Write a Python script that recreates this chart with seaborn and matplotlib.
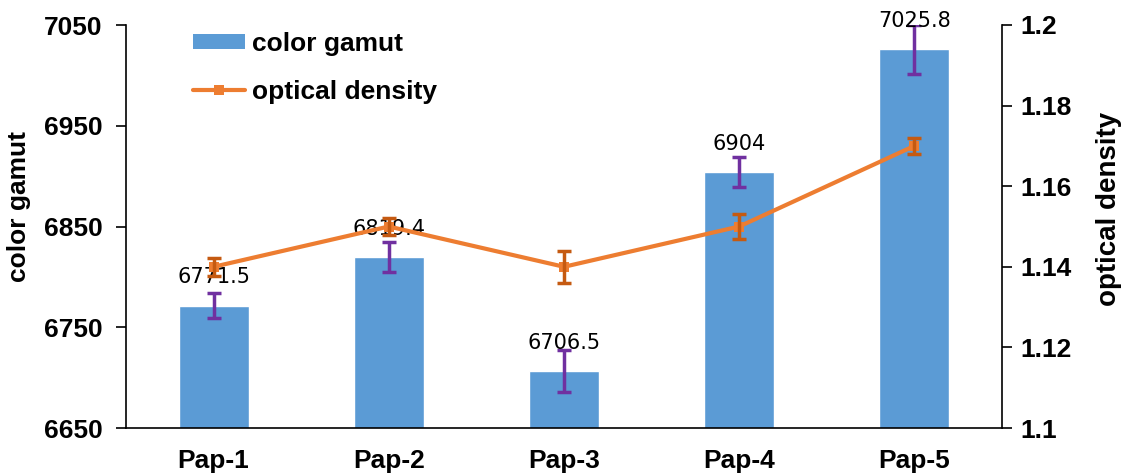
import numpy as np
import pandas as pd
import matplotlib
matplotlib.use("Agg")
import matplotlib.pyplot as plt
import seaborn as sns
from matplotlib.patches import Patch
from matplotlib.lines import Line2D

categories = ["Pap-1", "Pap-2", "Pap-3", "Pap-4", "Pap-5"]
color_gamut = [6771.5, 6819.4, 6706.5, 6904, 7025.8]
gamut_err = [12, 15, 21, 14.5, 24]
optical_density = [1.14, 1.15, 1.14, 1.15, 1.17]
density_err = [0.0022, 0.0022, 0.004, 0.003, 0.002]
gamut_ticks = [6650, 6750, 6850, 6950, 7050]
density_ticks = [1.1, 1.12, 1.14, 1.16, 1.18, 1.2]
density_ticklabels = ["1.1", "1.12", "1.14", "1.16", "1.18", "1.2"]

sns.set_style("white")
plt.rcParams['font.family'] = ['Liberation Sans', 'DejaVu Sans']
plt.rcParams['text.color'] = 'black'
plt.rcParams['axes.labelcolor'] = 'black'
plt.rcParams['xtick.color'] = 'black'
plt.rcParams['ytick.color'] = 'black'

bar_color = "#5B9BD5"
line_color = "#ED7D31"
bar_err_color = "#7030A0"
line_err_color = "#C55A11"

df = pd.DataFrame({"cat": categories, "gamut": color_gamut})

fig = plt.figure(figsize=(11.23, 4.74), dpi=100)
ax = fig.add_axes([126/1123, 1-428/474, (1002-126)/1123, (428-25)/474])

sns.barplot(data=df, x="cat", y="gamut", color=bar_color, width=0.4,
            saturation=1, ax=ax, zorder=2)
pos = np.arange(len(categories))
ax.errorbar(pos, color_gamut, yerr=gamut_err, fmt="none", ecolor=bar_err_color,
            elinewidth=2.5, capsize=5, capthick=2.5, zorder=3)
for x, v in zip(pos, color_gamut):
    ax.text(x, v + 18, f"{v:g}", ha="center", va="bottom", fontsize=15,
            family="DejaVu Sans", color="black", zorder=4)

ax.set_ylim(6650, 7050)
ax.set_xlim(-0.5, 4.5)
ax.set_yticks(gamut_ticks)
ax.set_yticklabels([str(t) for t in gamut_ticks], fontsize=19, fontweight="bold")
ax.set_xticks(pos)
ax.set_xticklabels(categories, fontsize=19, fontweight="bold")
ax.set_xticks(np.arange(-0.5, 5, 1.0), minor=True)
ax.tick_params(axis="x", which="major", length=0, pad=15)
ax.tick_params(axis="x", which="minor", length=7, width=1.2, direction="out", color="black")
ax.tick_params(axis="y", which="major", length=7, width=1.2, direction="out", color="black", left=True, pad=10)
ax.set_xlabel("")
ax.set_ylabel("")
for s in ["left", "bottom"]:
    ax.spines[s].set_color("black")
    ax.spines[s].set_linewidth(1.2)
ax.spines["top"].set_visible(False)
ax.spines["right"].set_visible(False)

ax2 = ax.twinx()
dfl = pd.DataFrame({"pos": pos, "od": optical_density})
sns.lineplot(data=dfl, x="pos", y="od", color=line_color, linewidth=3,
             marker="s", markersize=7, markeredgewidth=0, ax=ax2, zorder=3)
ax2.errorbar(pos, optical_density, yerr=density_err, fmt="none", ecolor=line_err_color,
             elinewidth=2.5, capsize=5, capthick=2.5, zorder=4)
ax2.set_ylim(1.1, 1.2)
ax2.set_yticks(density_ticks)
ax2.set_yticklabels(density_ticklabels, fontsize=19, fontweight="bold")
ax2.tick_params(axis="y", which="major", length=7, width=1.2, direction="out", color="black", right=True, pad=6)
ax2.set_ylabel("")
ax2.set_xlabel("")
ax2.set_xlim(-0.5, 4.5)
ax2.spines["top"].set_visible(False)
ax2.spines["left"].set_visible(False)
ax2.spines["bottom"].set_visible(False)
ax2.spines["right"].set_color("black")
ax2.spines["right"].set_linewidth(1.2)

fig.text(19/1123, 1-206/474, "color gamut", rotation=90, ha="center", va="center",
         fontsize=19, fontweight="bold")
fig.text(1109/1123, 1-209/474, "optical density", rotation=90, ha="center", va="center",
         fontsize=20, fontweight="bold")

handles = [Patch(facecolor=bar_color, edgecolor="none"),
           Line2D([0], [0], color=line_color, linewidth=3, marker="s", markersize=7, markeredgewidth=0)]
ax2.legend(handles, ["color gamut", "optical density"], loc="upper left",
           bbox_to_anchor=(0.049, 1.042), frameon=False,
           prop={"size": 19, "weight": "bold"}, handlelength=2.0,
           handleheight=0.5, handletextpad=0.25, labelspacing=0.9)

fig.savefig("out.png", dpi=100)
